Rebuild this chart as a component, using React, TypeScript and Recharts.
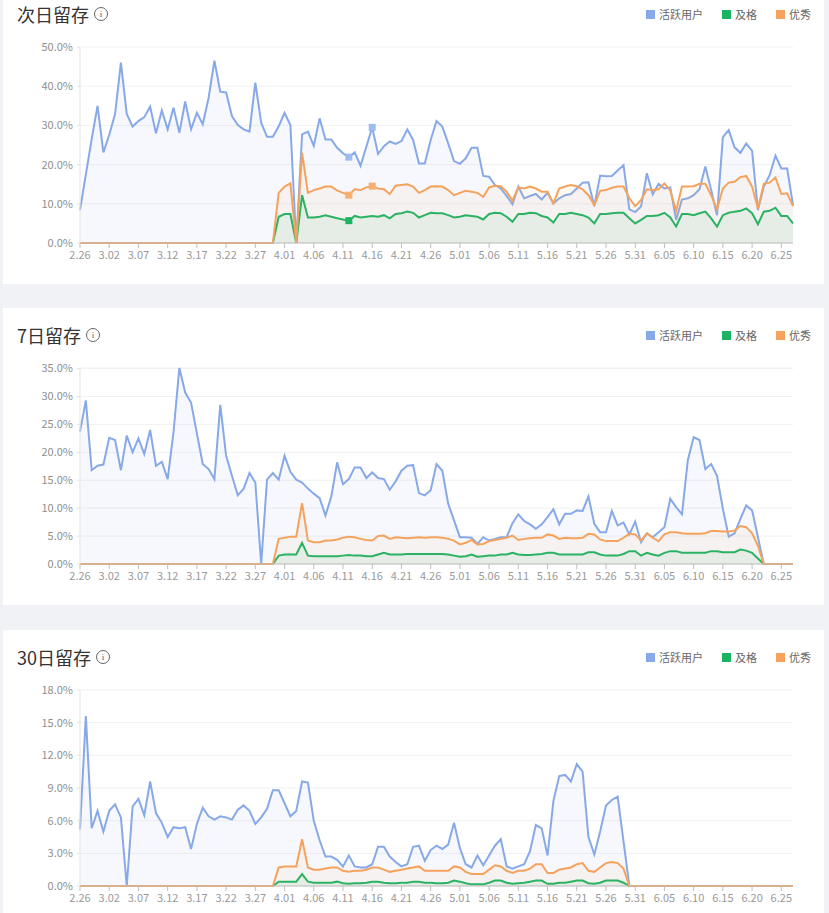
import { AreaChart, Area, XAxis, YAxis, CartesianGrid } from 'recharts'

// month, first day, last day (leap year)
const months = [
  [2, 26, 29],
  [3, 1, 31],
  [4, 1, 30],
  [5, 1, 31],
  [6, 1, 27],
]
const dates: string[] = []
months.forEach(([m, from, to]) => {
  for (let d = from; d <= to; d++) dates.push(`${m}.${d < 10 ? '0' + d : d}`)
})

// 次日留存
const d1Active = [
  8.4, 17.5, 26.5, 35.0, 23.1, 27.6, 32.9, 46.0, 32.9, 29.7,
  31.1, 32.1, 34.8, 28.0, 33.8, 29.0, 34.5, 28.1, 36.1, 29.0,
  33.2, 30.3, 37.0, 46.5, 38.6, 38.4, 32.4, 30.1, 29.0, 28.4,
  40.9, 30.7, 27.1, 27.1, 29.8, 33.2, 30.1, 0, 27.7, 28.4,
  24.8, 31.8, 26.4, 26.4, 24.3, 22.9, 21.9, 23.1, 19.7, 24.6,
  29.5, 22.7, 24.7, 25.9, 25.3, 26.0, 29.0, 26.3, 20.3, 20.3,
  26.3, 31.1, 29.7, 25.4, 20.9, 20.2, 21.6, 24.3, 24.3, 17.1,
  16.9, 14.8, 13.9, 12.0, 9.9, 14.4, 11.4, 12.0, 12.5, 11.1,
  12.8, 10.1, 11.4, 12.2, 12.5, 13.9, 15.4, 15.5, 9.4, 17.2,
  17.0, 17.1, 18.5, 19.9, 8.6, 7.9, 9.3, 17.8, 12.4, 15.1,
  13.9, 14.2, 5.9, 11.1, 11.4, 12.2, 13.7, 19.5, 13.5, 7.1,
  27.0, 28.8, 24.4, 23.0, 25.4, 23.5, 8.4, 14.4, 17.3, 22.3,
  19.0, 19.0, 9.7,
]
const d1Pass = [
  0, 0, 0, 0, 0, 0, 0, 0, 0, 0,
  0, 0, 0, 0, 0, 0, 0, 0, 0, 0,
  0, 0, 0, 0, 0, 0, 0, 0, 0, 0,
  0, 0, 0, 0, 6.7, 7.4, 7.4, 0, 12.2, 6.5,
  6.5, 6.7, 7.1, 6.7, 6.3, 6.0, 5.7, 6.9, 6.5, 6.7,
  6.9, 6.7, 7.1, 6.3, 7.4, 7.6, 8.0, 7.7, 6.5, 7.1,
  7.7, 7.6, 7.6, 7.1, 6.5, 6.7, 7.1, 6.9, 6.7, 6.0,
  7.4, 7.7, 7.6, 6.7, 5.4, 7.4, 7.4, 7.7, 7.6, 6.9,
  6.5, 5.2, 7.4, 7.4, 7.7, 7.4, 7.1, 6.5, 5.0, 7.4,
  7.4, 7.6, 7.7, 7.7, 6.3, 5.0, 5.9, 6.9, 6.9, 7.1,
  7.7, 6.5, 4.2, 7.4, 7.4, 7.1, 7.6, 8.0, 6.3, 4.2,
  7.1, 7.7, 8.0, 8.2, 8.8, 7.6, 4.8, 8.0, 8.2, 9.0,
  6.9, 6.9, 5.0,
]
const d1Good = [
  0, 0, 0, 0, 0, 0, 0, 0, 0, 0,
  0, 0, 0, 0, 0, 0, 0, 0, 0, 0,
  0, 0, 0, 0, 0, 0, 0, 0, 0, 0,
  0, 0, 0, 0, 12.8, 14.4, 15.2, 0, 23.0, 12.8,
  13.5, 13.9, 14.4, 14.4, 13.4, 12.8, 12.2, 13.7, 13.5, 14.2,
  14.5, 13.9, 13.7, 12.5, 14.6, 14.8, 15.0, 14.4, 12.8, 13.5,
  14.4, 14.5, 14.4, 13.5, 12.2, 12.8, 13.3, 13.1, 12.8, 11.8,
  14.2, 14.6, 14.5, 13.1, 10.8, 14.2, 13.9, 14.4, 13.9, 13.1,
  13.1, 10.1, 13.9, 14.4, 14.8, 14.5, 13.7, 12.2, 9.7, 13.3,
  13.5, 14.1, 14.4, 14.4, 11.4, 9.4, 11.0, 13.7, 13.5, 13.7,
  15.2, 13.4, 8.2, 14.4, 14.4, 14.5, 15.1, 15.1, 12.2, 8.6,
  13.9, 15.4, 15.6, 16.8, 17.1, 14.4, 8.8, 15.1, 15.4, 16.7,
  12.5, 12.7, 9.4,
]

// 7日留存
const d7Active = [
  23.7, 29.3, 16.8, 17.6, 17.8, 22.6, 22.2, 16.8, 23.0, 20.0,
  22.5, 19.7, 24.0, 17.6, 18.3, 15.2, 23.6, 35.1, 30.7, 28.9,
  23.4, 17.9, 17.0, 15.2, 28.5, 19.4, 15.8, 12.3, 13.5, 16.3,
  14.6, 0, 15.1, 16.3, 15.1, 19.4, 16.5, 15.1, 14.6, 13.5,
  12.6, 11.8, 8.7, 12.1, 18.2, 14.3, 15.2, 17.3, 17.3, 15.4,
  16.4, 15.4, 15.2, 13.3, 14.8, 16.7, 17.6, 17.7, 12.7, 12.3,
  13.2, 17.9, 16.7, 10.8, 7.8, 4.8, 4.8, 4.7, 3.6, 4.8,
  4.2, 4.5, 4.8, 4.8, 7.3, 8.9, 7.7, 7.1, 6.3, 7.1,
  8.4, 9.8, 7.1, 9.0, 9.0, 9.6, 9.5, 12.1, 7.2, 5.7,
  5.7, 9.5, 6.9, 7.4, 5.3, 7.6, 3.9, 5.5, 4.8, 5.7,
  6.6, 11.7, 10.2, 8.9, 18.6, 22.7, 22.2, 17.0, 17.9, 15.8,
  9.9, 4.9, 5.5, 8.1, 10.5, 9.6, 4.8, 0, 0, 0,
  0, 0, 0,
]
const d7Pass = [
  0, 0, 0, 0, 0, 0, 0, 0, 0, 0,
  0, 0, 0, 0, 0, 0, 0, 0, 0, 0,
  0, 0, 0, 0, 0, 0, 0, 0, 0, 0,
  0, 0, 0, 0, 1.5, 1.7, 1.7, 1.7, 3.8, 1.5,
  1.4, 1.4, 1.4, 1.4, 1.4, 1.5, 1.6, 1.5, 1.5, 1.4,
  1.4, 1.7, 2.0, 1.7, 1.7, 1.7, 1.8, 1.8, 1.8, 1.8,
  1.8, 1.8, 1.8, 1.7, 1.5, 1.3, 1.4, 1.7, 1.3, 1.4,
  1.5, 1.5, 1.7, 1.7, 2.0, 1.7, 1.6, 1.6, 1.7, 1.8,
  2.0, 2.0, 1.7, 1.7, 1.7, 1.7, 1.7, 2.1, 2.1, 1.7,
  1.5, 1.5, 1.5, 1.8, 2.3, 2.3, 1.5, 2.0, 1.7, 1.5,
  2.0, 2.3, 2.3, 2.0, 2.0, 2.0, 2.0, 2.0, 2.3, 2.3,
  2.1, 2.1, 2.1, 2.6, 2.4, 2.0, 1.0, 0, 0, 0,
  0, 0, 0,
]
const d7Good = [
  0, 0, 0, 0, 0, 0, 0, 0, 0, 0,
  0, 0, 0, 0, 0, 0, 0, 0, 0, 0,
  0, 0, 0, 0, 0, 0, 0, 0, 0, 0,
  0, 0, 0, 0, 4.5, 4.7, 4.9, 4.9, 10.9, 4.2,
  3.9, 3.9, 4.2, 4.2, 4.4, 4.7, 4.9, 4.8, 4.5, 4.3,
  4.2, 5.0, 5.1, 4.5, 4.8, 4.7, 4.6, 4.7, 4.8, 4.7,
  4.8, 4.8, 4.7, 4.5, 4.2, 3.5, 3.8, 4.3, 3.5, 3.6,
  4.1, 4.3, 4.5, 4.7, 5.1, 4.3, 4.5, 4.6, 4.7, 4.7,
  5.3, 5.1, 4.5, 4.7, 4.6, 4.6, 4.7, 5.4, 5.3, 4.4,
  4.1, 4.1, 4.1, 4.7, 5.4, 5.3, 4.2, 5.5, 4.7, 4.1,
  5.3, 5.7, 5.7, 5.5, 5.4, 5.4, 5.4, 5.5, 5.9, 5.9,
  5.8, 5.8, 6.0, 6.8, 6.6, 5.5, 3.3, 0, 0, 0,
  0, 0, 0,
]

// 30日留存
const d30Active = [
  5.2, 15.6, 5.3, 6.9, 5.0, 6.9, 7.5, 6.3, 0, 7.3,
  8.0, 6.5, 9.6, 6.7, 5.8, 4.5, 5.4, 5.3, 5.4, 3.4,
  5.7, 7.2, 6.4, 6.1, 6.4, 6.3, 6.1, 7.0, 7.4, 6.9,
  5.7, 6.3, 7.1, 8.8, 8.8, 7.6, 6.4, 6.9, 9.6, 9.5,
  6.0, 4.2, 2.7, 2.7, 2.4, 1.8, 2.8, 1.8, 1.7, 1.7,
  2.0, 3.6, 3.6, 2.7, 2.2, 1.8, 2.0, 3.6, 3.7, 2.3,
  3.3, 3.7, 3.4, 3.8, 5.8, 3.5, 2.0, 1.7, 2.8, 1.9,
  2.8, 3.7, 4.3, 1.8, 1.6, 1.8, 2.0, 3.2, 5.6, 5.3,
  2.8, 7.8, 10.1, 10.2, 9.6, 11.2, 10.5, 4.5, 2.9, 5.0,
  7.4, 7.9, 8.2, 4.1, 0, 0, 0, 0, 0, 0,
  0, 0, 0, 0, 0, 0, 0, 0, 0, 0,
  0, 0, 0, 0, 0, 0, 0, 0, 0, 0,
  0, 0, 0,
]
const d30Pass = [
  0, 0, 0, 0, 0, 0, 0, 0, 0, 0,
  0, 0, 0, 0, 0, 0, 0, 0, 0, 0,
  0, 0, 0, 0, 0, 0, 0, 0, 0, 0,
  0, 0, 0, 0, 0.4, 0.4, 0.4, 0.4, 1.1, 0.4,
  0.3, 0.3, 0.3, 0.3, 0.4, 0.25, 0.2, 0.25, 0.25, 0.3,
  0.4, 0.4, 0.3, 0.25, 0.25, 0.3, 0.3, 0.4, 0.4, 0.3,
  0.3, 0.25, 0.25, 0.3, 0.5, 0.4, 0.25, 0.15, 0.15, 0.15,
  0.3, 0.5, 0.5, 0.3, 0.2, 0.25, 0.3, 0.4, 0.5, 0.5,
  0.2, 0.2, 0.3, 0.3, 0.4, 0.5, 0.5, 0.25, 0.2, 0.3,
  0.5, 0.5, 0.5, 0.3, 0, 0, 0, 0, 0, 0,
  0, 0, 0, 0, 0, 0, 0, 0, 0, 0,
  0, 0, 0, 0, 0, 0, 0, 0, 0, 0,
  0, 0, 0,
]
const d30Good = [
  0, 0, 0, 0, 0, 0, 0, 0, 0, 0,
  0, 0, 0, 0, 0, 0, 0, 0, 0, 0,
  0, 0, 0, 0, 0, 0, 0, 0, 0, 0,
  0, 0, 0, 0, 1.7, 1.8, 1.8, 1.8, 4.3, 1.7,
  1.5, 1.5, 1.6, 1.7, 1.7, 1.4, 1.3, 1.4, 1.4, 1.5,
  1.7, 1.7, 1.5, 1.3, 1.4, 1.5, 1.6, 1.7, 1.8, 1.4,
  1.4, 1.4, 1.4, 1.4, 1.8, 1.7, 1.3, 1.1, 1.1, 1.1,
  1.5, 1.9, 1.8, 1.4, 1.2, 1.4, 1.4, 1.6, 2.0, 2.0,
  1.2, 1.2, 1.5, 1.6, 1.7, 2.0, 2.1, 1.4, 1.3, 1.7,
  2.1, 2.2, 2.1, 1.6, 0, 0, 0, 0, 0, 0,
  0, 0, 0, 0, 0, 0, 0, 0, 0, 0,
  0, 0, 0, 0, 0, 0, 0, 0, 0, 0,
  0, 0, 0,
]

const d1Ticks = [0, 10, 20, 30, 40, 50]
const d7Ticks = [0, 5, 10, 15, 20, 25, 30, 35]
const d30Ticks = [0, 3, 6, 9, 12, 15, 18]

// highlighted points on the first chart
const d1ActiveMarks = [46, 50]
const d1GoodMarks = [46, 50]
const d1PassMarks = [46]

const BLUE = '#87a9e8'
const GREEN = '#1cb363'
const ORANGE = '#f5a35c'

const FONT = '"Noto Sans CJK SC", "Noto Sans", sans-serif'

const markDot = (color: string, marks: number[]) => (p: any) =>
  marks.includes(p.index) ? (
    <rect key={`m${p.index}`} x={p.cx - 3.5} y={p.cy - 3.5} width={7} height={7} fill={color} />
  ) : (
    <g key={`m${p.index}`} />
  )

interface PanelProps {
  title: string
  top: number
  active: number[]
  pass: number[]
  good: number[]
  ticks: number[]
  activeMarks?: number[]
  passMarks?: number[]
  goodMarks?: number[]
}

function Panel({ title, top, active, pass, good, ticks, activeMarks = [], passMarks = [], goodMarks = [] }: PanelProps) {
  const data = dates.map((date, i) => ({ date, active: active[i], pass: pass[i], good: good[i] }))
  const legend = [
    { name: '活跃用户', color: BLUE },
    { name: '及格', color: GREEN },
    { name: '优秀', color: ORANGE },
  ]

  return (
    <div style={{ position: 'absolute', left: 3, top, width: 821, height: 297, background: '#fff' }}>
      <div
        style={{
          position: 'absolute', left: 14, top: 14, height: 26, display: 'flex', alignItems: 'center',
          fontSize: 18, color: '#333', lineHeight: '26px',
        }}
      >
        <span>{title}</span>
        <span
          style={{
            marginLeft: 5, width: 12, height: 12, border: '1px solid #666', borderRadius: '50%',
            fontSize: 9, lineHeight: '12px', textAlign: 'center', color: '#555', fontFamily: 'serif',
          }}
        >
          i
        </span>
      </div>
      <div
        style={{
          position: 'absolute', right: 13, top: 19, height: 16, display: 'flex', alignItems: 'center',
          fontSize: 11, color: '#666',
        }}
      >
        {legend.map((l) => (
          <div key={l.name} style={{ display: 'flex', alignItems: 'center', marginLeft: 19 }}>
            <span style={{ width: 9, height: 9, background: l.color, marginRight: 4 }} />
            <span>{l.name}</span>
          </div>
        ))}
      </div>
      <AreaChart width={821} height={297} data={data} margin={{ top: 60, right: 31, left: 0, bottom: 11 }}>
        <CartesianGrid vertical={false} stroke="#f1f1f1" />
        <XAxis
          dataKey="date"
          interval={4}
          height={30}
          tickSize={5}
          tickMargin={3}
          axisLine={{ stroke: '#bdbdbd' }}
          tickLine={{ stroke: '#bdbdbd' }}
          tick={{ fontSize: 11, fill: '#9a9a9a' }}
        />
        <YAxis
          width={77}
          domain={[0, ticks[ticks.length - 1]]}
          ticks={ticks}
          tickSize={3}
          tickMargin={4}
          axisLine={{ stroke: '#e3e3e3' }}
          tickLine={{ stroke: '#e3e3e3' }}
          tick={{ fontSize: 11, fill: '#8f8f8f' }}
          tickFormatter={(v: number) => `${v.toFixed(1)}%`}
        />
        <Area
          type="linear"
          dataKey="active"
          stroke={BLUE}
          strokeWidth={2}
          fill={BLUE}
          fillOpacity={0.08}
          dot={markDot('#9dbcf0', activeMarks)}
          activeDot={false}
          isAnimationActive={false}
        />
        <Area
          type="linear"
          dataKey="pass"
          stroke={GREEN}
          strokeWidth={2}
          fill={GREEN}
          fillOpacity={0.07}
          dot={markDot(GREEN, passMarks)}
          activeDot={false}
          isAnimationActive={false}
        />
        <Area
          type="linear"
          dataKey="good"
          stroke={ORANGE}
          strokeWidth={2}
          fill={ORANGE}
          fillOpacity={0.07}
          dot={markDot('#f7b072', goodMarks)}
          activeDot={false}
          isAnimationActive={false}
        />
      </AreaChart>
    </div>
  )
}

export default function App() {
  return (
    <div
      style={{
        position: 'absolute', left: 0, top: 0, width: 829, height: 913, overflow: 'hidden',
        background: '#f0f2f5', fontFamily: FONT,
      }}
    >
      <Panel
        title="次日留存"
        top={-13}
        active={d1Active}
        pass={d1Pass}
        good={d1Good}
        ticks={d1Ticks}
        activeMarks={d1ActiveMarks}
        passMarks={d1PassMarks}
        goodMarks={d1GoodMarks}
      />
      <Panel title="7日留存" top={308} active={d7Active} pass={d7Pass} good={d7Good} ticks={d7Ticks} />
      <Panel title="30日留存" top={630} active={d30Active} pass={d30Pass} good={d30Good} ticks={d30Ticks} />
    </div>
  )
}
